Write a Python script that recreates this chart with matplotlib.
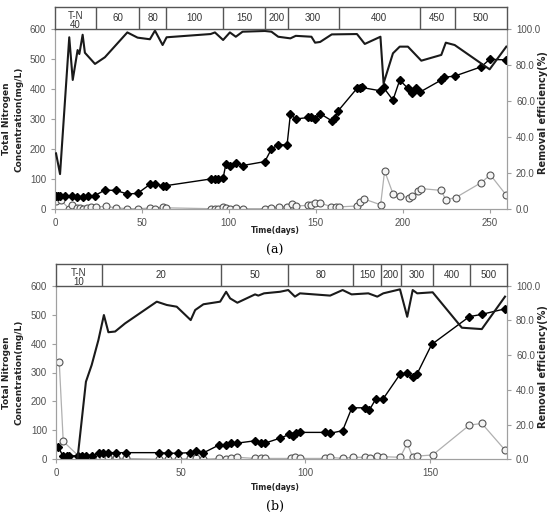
import matplotlib
matplotlib.use("Agg")
import matplotlib.pyplot as plt

# ---- panel (a) data ----
a_inf_day = [0.6, 2, 3, 5.7, 9.6, 12.8, 16, 19, 23, 28.7, 35, 41.6, 47.5, 54.6, 57.5,
             62, 64, 89.5, 92, 94, 96.7, 98.3, 100.6, 104, 108, 120.7, 124.5, 128.4, 133.5,
             135.4, 138.5, 145.6, 147.5, 149.6, 152.5, 159.2, 161, 163, 173.7, 175.2, 176.5,
             187.2, 189, 194.4, 198.3, 203, 205.5, 207.8, 210, 222.2, 223.5, 229.9, 245.2,
             250, 259.6]
a_inf = [42, 42, 42, 42, 42, 40, 40, 42, 45, 63, 62, 50, 52, 82, 82,
         78, 78, 100, 100, 100, 103, 150, 145, 153, 145, 158, 200, 214, 214,
         316, 300, 305, 305, 301, 318, 294, 302, 328, 402, 403, 405,
         394, 405, 363, 430, 402, 386, 402, 390, 430, 439, 443, 474,
         499, 497]

a_eff_day = [0.6, 3.3, 8.2, 10, 12.8, 14.4, 16.3, 18.6, 20.5, 23.6, 29.3, 35, 41.6, 47.5,
             54.6, 57.5, 62, 64, 89.5, 92, 94, 96.4, 98.3, 100.6, 104, 108, 120.7, 124.5,
             129, 133.6, 136.1, 138.5, 145.6, 147.5, 149.4, 152.3, 159, 161.5, 163.4, 173.7,
             175.2, 177.5, 187.3, 189.6, 194.4, 198.6, 203.6, 205.5, 208.8, 210.7, 222.2,
             224.7, 230.5, 245.2, 250.4, 259.6]
a_eff = [27, 29, 1, 12, 4, 4, 1, 4, 7, 7, 9, 4, 1, 1,
         3, 0, 7, 4, 1, 1, 1, 7, 4, 1, 4, 1, 1, 4,
         7, 7, 16, 10, 12, 12, 21, 21, 7, 7, 7, 10,
         23, 34, 14, 127, 51, 43, 38, 43, 59, 68, 62,
         31, 38, 88, 114, 46]

a_rem_day = [0.6, 2.9, 8.2, 10.2, 13, 14, 15.9, 17.2, 23, 28.7, 41.6, 47.5, 54.6, 57.5,
             61.9, 64.2, 89.5, 92, 96.7, 100.6, 104, 107.9, 120.7, 124.5, 128.4, 135.4,
             138.5, 147.5, 149.6, 152.5, 159.2, 173.7, 178.2, 187.2, 189, 194.4, 198.3,
             203, 210.7, 222.2, 224.8, 229.9, 250, 259.6]
a_rem = [30.9, 19.4, 95.4, 71.7, 88.3, 86.1, 96.8, 86.8, 80.6, 84.3, 98.1, 95.2, 94.3, 99.1,
         91.1, 95.4, 97.2, 98.1, 93.9, 98.1, 95.7, 98.5, 98.9, 98.5, 95.7, 94.8,
         96.2, 95.7, 92.4, 92.8, 97.0, 97.2, 91.7, 95.7, 69.8, 86.5, 90.2,
         90.2, 82.4, 85.6, 92.4, 91.1, 77.6, 90.2]

a_stage_edges = [0, 23.6, 48.4, 63.8, 96.7, 120.7, 133.9, 163.2, 209.8, 229.9, 260]
a_stage_labels = ["T-N\n40", "60", "80", "100", "150", "200", "300", "400", "450", "500"]

# ---- panel (b) data ----
b_inf_day = [0.9, 2.7, 4.3, 5.3, 9, 10.3, 12, 14.3, 17.4, 19, 21, 24, 28, 41.4, 45,
             49, 53.7, 56, 58.8, 65.5, 68.2, 70.2, 72.7, 79.8, 82.2, 83.8, 89.8, 93.6, 95.2,
             96.2, 97.8, 107.9, 109.9, 114.9, 118.6, 124, 125.6, 128.3, 131, 138, 140.8,
             143, 144.8, 150.6, 165.7, 170.7, 180]
b_inf = [44, 12, 12, 12, 12, 12, 12, 12, 21, 23, 23, 23, 23, 23, 21,
         21, 23, 27, 21, 50, 50, 58, 56, 64, 58, 56, 73, 86, 82,
         90, 93, 93, 90, 99, 178, 178, 170, 210, 207, 295, 298,
         286, 296, 397, 493, 501, 520]

b_eff_day = [1.3, 2.9, 9.6, 11.6, 13.4, 17.4, 19, 21, 24, 28, 41.4, 45, 49, 53.7, 56,
             58.8, 65.5, 68.2, 70.2, 72.7, 79.8, 82.2, 83.8, 94.1, 95.8, 97.8, 107.9, 109.9,
             114.9, 118.9, 124, 125.9, 128.8, 131, 138, 140.8, 143, 144.8, 151, 165.7,
             170.7, 180]
b_eff = [337, 62, 7, 3, 3, 3, 3, 7, 3, 3, 0, 0, 0, 3, 3,
         0, 3, 0, 3, 7, 3, 3, 3, 3, 7, 3, 3, 7,
         3, 7, 7, 3, 13, 9, 7, 55, 7, 11, 15, 118,
         124, 32]

b_rem_day = [8.6, 12, 14.3, 17, 19.2, 21, 23.7, 27.7, 40.4, 44.4, 48.4, 54, 55.8, 59.1,
             65.8, 68.2, 69.8, 72.7, 79.8, 81.1, 83.4, 89.8, 93.1, 95.8, 97.8, 109.9,
             114.9, 118.5, 125.2, 128.8, 131.2, 137.9, 140.8, 143, 144.8, 151, 162.7,
             170.7, 180]
b_rem = [0, 44.7, 54.3, 68.7, 83.1, 73.2, 73.6, 78.3, 90.8, 88.9, 87.9, 80.2, 86, 89.3,
         90.8, 96.5, 92.7, 90.2, 95, 94.3, 95.6, 96.5, 97.5, 93.7, 95.6, 94.3,
         97.5, 95, 95.6, 93.7, 95.6, 97.9, 82.1, 97.5, 95.6, 96.2, 75.8,
         75, 93.7]

b_stage_edges = [0, 18.3, 66, 93.1, 119.2, 130.3, 138.2, 151.3, 166, 180.8]
b_stage_labels = ["T-N\n10", "20", "50", "80", "150", "200", "300", "400", "500"]

W, H = 553, 513
fig = plt.figure(figsize=(W / 100, H / 100), dpi=100)

tick_font = 'Liberation Sans'
tick_col = '#505050'
spine_col = '#a0a0a0'


def px(x, y):
    # pixel position (from top-left) -> figure fraction
    return x / W, 1 - y / H


def panel(left, right, top, bottom, head_top, xmax, xticks,
          inf_d, inf, eff_d, eff, rem_d, rem, edges, labels, cap, cap_y, time_y):
    ax = fig.add_axes([left / W, 1 - bottom / H, (right - left) / W, (bottom - top) / H])
    ax.plot(eff_d, eff, color='#b0b0b0', lw=0.9, marker='o', ms=5,
            mfc='#f4f4f4', mec='#555555', mew=0.8, zorder=2)
    ax.plot(inf_d, inf, color='black', lw=1.0, marker='D', ms=4.5,
            mfc='black', mec='black', zorder=3)
    ax.set_xlim(0, xmax)
    ax.set_ylim(0, 600)
    ax.set_xticks(xticks)
    ax.set_yticks(range(0, 601, 100))
    ax.tick_params(labelsize=7, colors=tick_col, length=3, color=spine_col)
    for t in ax.get_xticklabels() + ax.get_yticklabels():
        t.set_family(tick_font)
    ax.spines['top'].set_visible(False)
    for s in ['left', 'bottom', 'right']:
        ax.spines[s].set_color(spine_col)

    ax2 = ax.twinx()
    ax2.plot(rem_d, rem, color='#1a1a1a', lw=1.5, zorder=4)
    ax2.set_ylim(0, 100)
    ax2.set_yticks(range(0, 101, 20))
    ax2.set_yticklabels(['%.1f' % v for v in range(0, 101, 20)])
    ax2.tick_params(labelsize=7, colors=tick_col, length=3, color=spine_col)
    for t in ax2.get_yticklabels():
        t.set_family(tick_font)
    ax2.spines['top'].set_visible(False)
    for s in ['left', 'bottom', 'right']:
        ax2.spines[s].set_color(spine_col)

    mid = (top + bottom) / 2
    fig.text(*px(13, mid), 'Total Nitrogen\nConcentration(mg/L)', rotation=90,
             ha='center', va='center', fontsize=6.5, fontweight='bold',
             linespacing=1.5, color='#222222')
    fig.text(*px(543, mid - 6), 'Removal efficiency(%)', rotation=90,
             ha='center', va='center', fontsize=7, fontweight='bold', color='#222222')
    fig.text(*px(275, time_y), 'Time(days)', ha='center', va='center',
             fontsize=5.6, fontweight='bold', color='#222222')

    # stage header box
    hx = fig.add_axes([left / W, 1 - top / H, (right - left) / W, (top - head_top) / H])
    hx.set_xlim(0, xmax)
    hx.set_ylim(0, 1)
    hx.set_xticks([])
    hx.set_yticks([])
    for s in hx.spines.values():
        s.set_color('#555555')
        s.set_linewidth(1.0)
    for e in edges[1:-1]:
        hx.axvline(e, color='#555555', lw=1.0)
    for i, lab in enumerate(labels):
        xc = (edges[i] + edges[i + 1]) / 2
        if '\n' in lab:
            hx.text(xc, 0.38, lab, ha='center', va='center', fontsize=7,
                    family=tick_font, color='#333333', linespacing=0.95)
        else:
            hx.text(xc, 0.5, lab, ha='center', va='center', fontsize=7,
                    family=tick_font, color='#333333')

    fig.text(*px(275, cap_y), cap, ha='center', va='center', fontsize=9, family='serif')


panel(55, 507, 29, 209, 7, 260, range(0, 251, 50),
      a_inf_day, a_inf, a_eff_day, a_eff, a_rem_day, a_rem,
      a_stage_edges, a_stage_labels, '(a)', 250, 231)
panel(56, 507, 285.7, 459.3, 264.3, 180.8, range(0, 151, 50),
      b_inf_day, b_inf, b_eff_day, b_eff, b_rem_day, b_rem,
      b_stage_edges, b_stage_labels, '(b)', 506, 487)

fig.savefig('out.png', dpi=100)
